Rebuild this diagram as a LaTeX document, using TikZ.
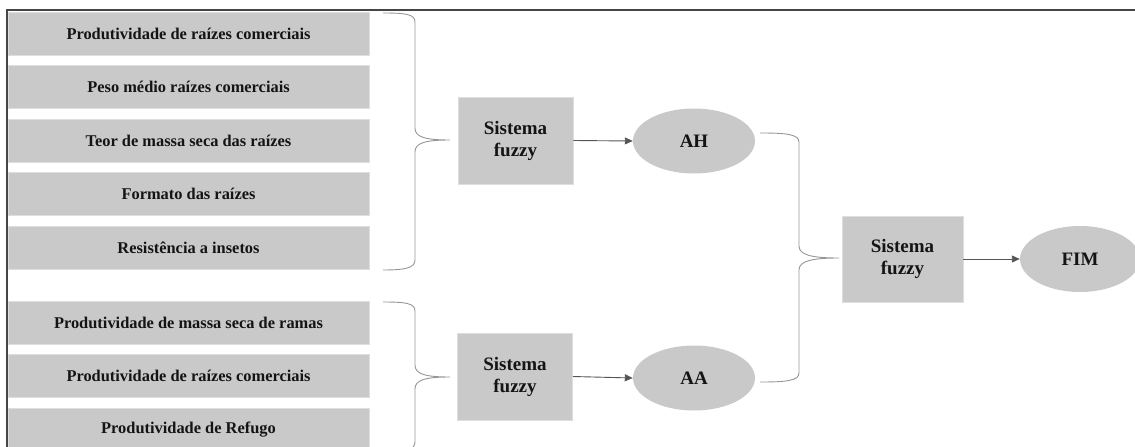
\documentclass[tikz,border=0pt]{standalone}
\usepackage{fontspec}
\setmainfont{Liberation Serif}
\usetikzlibrary{shapes.geometric,arrows.meta}
\definecolor{boxgray}{RGB}{201,201,201}
\definecolor{edgegray}{RGB}{222,222,222}
\definecolor{bracegray}{RGB}{150,150,150}
\definecolor{linegray}{RGB}{85,85,85}
\definecolor{framegray}{RGB}{70,70,70}
\definecolor{ink}{RGB}{20,20,20}
\begin{document}
\begin{tikzpicture}[x=1pt,y=-1pt,
  item/.style={draw=edgegray, line width=0.6pt, fill=boxgray, text=ink,
    minimum width=361pt, minimum height=43pt, inner sep=0pt,
    font=\fontsize{16.4}{19}\selectfont\bfseries},
  sysbox/.style={draw=edgegray, line width=0.6pt, fill=boxgray, text=ink,
    minimum width=115pt, minimum height=87pt, inner sep=0pt, align=center,
    font=\fontsize{19}{22}\selectfont\bfseries},
  result/.style={ellipse, fill=boxgray, text=ink, minimum width=122pt,
    minimum height=65pt, inner sep=0pt,
    font=\fontsize{19}{22}\selectfont\bfseries},
  flow/.style={draw=linegray, line width=0.9pt,
    -{Triangle[length=8pt,width=7pt]}},
  brace/.style={draw=bracegray, line width=0.9pt}]
\useasboundingbox (0,0) rectangle (1135,447);
\clip (0,0) rectangle (1135,447);

% frame
\draw[framegray, line width=1.3pt] (7,460) -- (7,10) -- (1140,10);

% first group of criteria
\node[item] (p1) at (188.5,33.5)  {Produtividade de raízes comerciais};
\node[item] (p2) at (188.5,87)    {Peso médio raízes comerciais};
\node[item] (p3) at (188.5,140.5) {Teor de massa seca das raízes};
\node[item] (p4) at (188.5,194)   {Formato das raízes};
\node[item] (p5) at (188.5,247.5) {Resistência a insetos};

% second group of criteria
\node[item] (q1) at (188.5,322.5) {Produtividade de massa seca de ramas};
\node[item] (q2) at (188.5,376)   {Produtividade de raízes comerciais};
\node[item] (q3) at (188.5,429.5) {Produtividade de Refugo};

% fuzzy systems and outputs
\node[sysbox] (s1) at (515.5,140.5) {Sistema\\fuzzy};
\node[sysbox] (s2) at (515,376.5)   {Sistema\\fuzzy};
\node[sysbox, minimum width=121pt, minimum height=86pt] (s3) at (902.5,259) {Sistema\\fuzzy};

\node[result] (ah)  at (694,141)  {AH};
\node[result] (aa)  at (694,378)  {AA};
\node[result, minimum width=120pt, minimum height=66pt] (fim) at (1080,259) {FIM};

\draw[flow] (s1.east) -- (ah.west);
\draw[flow] (s2.east) -- (aa.west);
\draw[flow] (s3.east) -- (fim.west);

% braces
\coordinate (b1t) at (383,13);
\coordinate (b1m) at (450,140);
\coordinate (b1b) at (383,270);
\draw[brace] (b1t) .. controls (405,13) and (415,14) .. (415,22)
  -- (415,128) .. controls (415,137) and (425,140) .. (b1m)
  .. controls (425,140) and (415,143) .. (415,152)
  -- (415,260) .. controls (415,268) and (405,270) .. (b1b);

\coordinate (b2t) at (383,302);
\coordinate (b2m) at (450,377);
\coordinate (b2b) at (383,452);
\draw[brace] (b2t) .. controls (405,302) and (415,303) .. (415,311)
  -- (415,365) .. controls (415,374) and (425,377) .. (b2m)
  .. controls (425,377) and (415,380) .. (415,389)
  -- (415,442) .. controls (415,450) and (405,452) .. (b2b);

\coordinate (b3t) at (760,133);
\coordinate (b3m) at (839,258);
\coordinate (b3b) at (760,382);
\draw[brace] (b3t) .. controls (785,133) and (799,134) .. (799,142)
  -- (799,246) .. controls (799,255) and (812,258) .. (b3m)
  .. controls (812,258) and (799,261) .. (799,270)
  -- (799,373) .. controls (799,381) and (785,382) .. (b3b);
\end{tikzpicture}
\end{document}
